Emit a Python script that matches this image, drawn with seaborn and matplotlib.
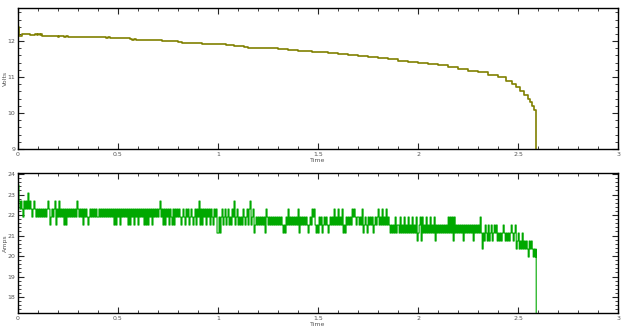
import numpy as np
import pandas as pd
import seaborn as sns
import matplotlib.pyplot as plt
from matplotlib.ticker import MultipleLocator

# battery voltage, step breakpoints (time, volts)
volt_t = [0.000, 0.004, 0.020, 0.060, 0.080, 0.085, 0.095, 0.100, 0.110, 0.115,
          0.120, 0.200, 0.205, 0.230, 0.240, 0.250, 0.320, 0.440, 0.450, 0.460,
          0.500, 0.560, 0.570, 0.580, 0.590, 0.620, 0.700, 0.720, 0.750, 0.800,
          0.820, 0.850, 0.920, 0.950, 1.040, 1.080, 1.100, 1.130, 1.150, 1.250,
          1.300, 1.350, 1.400, 1.470, 1.550, 1.600, 1.650, 1.700, 1.750, 1.800,
          1.850, 1.900, 1.950, 2.000, 2.050, 2.100, 2.150, 2.200, 2.250, 2.300,
          2.350, 2.400, 2.440, 2.470, 2.490, 2.510, 2.530, 2.550, 2.560, 2.570,
          2.580, 2.590, 2.5901]
volt_v = [12.38, 12.14, 12.19, 12.18, 12.16, 12.19, 12.16, 12.19, 12.16, 12.19,
          12.14, 12.12, 12.14, 12.12, 12.14, 12.12, 12.11, 12.09, 12.11, 12.08,
          12.08, 12.07, 12.04, 12.07, 12.04, 12.03, 12.02, 12.01, 11.99, 11.98,
          11.96, 11.94, 11.93, 11.91, 11.89, 11.87, 11.85, 11.84, 11.82, 11.80,
          11.78, 11.76, 11.73, 11.69, 11.66, 11.63, 11.61, 11.58, 11.55, 11.52,
          11.49, 11.46, 11.42, 11.40, 11.37, 11.33, 11.27, 11.23, 11.18, 11.13,
          11.07, 11.00, 10.90, 10.80, 10.72, 10.62, 10.50, 10.38, 10.30, 10.20,
          10.08, 10.00, 8.50]

# current samples every 0.005 s, coded as ADC levels (one char per sample)
amp_step = 0.005
amp_level_base = 19.95
amp_level_size = 0.39
amp_codes = [
    "97676576768676567656", "56565656567645656746", "57565646465656565657",
    "65656465654565656565", "56565656565656564646", "56465656564646564656",
    "46565646464656465656", "56756464656465464656", "56545654656456545646",
    "57464656465646546563", "35356456456454657456", "45454654564674563454",
    "54545453654545454545", "45454343546454545454", "63545454543454656434",
    "35453454543454546454", "64546343545454656545", "54546345435454534545",
    "64546454645434343534", "43534353435343534352", "34525343534353435243",
    "43434343435353525343", "43434243434343424343", "43531324324234234342",
    "32323432323234323412", "3121312121021210101",
]
amp_end_t = 2.5901
amp_end_v = 16.0

levels = [int(c) for c in "".join(amp_codes)]
amp_t = [i * amp_step for i in range(len(levels))] + [amp_end_t]
amp_v = [amp_level_base + k * amp_level_size for k in levels] + [amp_end_v]

volts = pd.DataFrame({"Time": volt_t, "Volts": volt_v})
amps = pd.DataFrame({"Time": amp_t, "Amps": amp_v})

sns.set_style("ticks")
plt.rcParams['font.family'] = ['DejaVu Sans']

fig = plt.figure(figsize=(6.4, 3.27), dpi=100)
ax1 = fig.add_axes([0.028, 0.5443, 0.938, 0.4312])
ax2 = fig.add_axes([0.028, 0.0428, 0.938, 0.4282])

sns.lineplot(data=volts, x="Time", y="Volts", ax=ax1, color="#808000",
             drawstyle="steps-post", estimator=None, sort=False, lw=1.2)
sns.lineplot(data=amps, x="Time", y="Amps", ax=ax2, color="#00a800",
             drawstyle="steps-post", estimator=None, sort=False, lw=0.8)

ax1.set_ylim(9, 12.92)
ax2.set_ylim(17.22, 24.05)
for ax in (ax1, ax2):
    ax.set_xlim(0, 3)
    ax.xaxis.set_major_locator(MultipleLocator(0.5))
    ax.xaxis.set_minor_locator(MultipleLocator(0.1))
    ax.yaxis.set_major_locator(MultipleLocator(1))
    ax.yaxis.set_minor_locator(MultipleLocator(0.2))
    ax.xaxis.set_major_formatter(plt.FuncFormatter(lambda v, p: f"{v:g}"))
    ax.tick_params(which="both", direction="in", top=True, right=True,
                   labelsize=4.5, labelcolor="#555555", pad=2)
    ax.tick_params(which="major", length=4, width=0.8)
    ax.tick_params(which="minor", length=2, width=0.6)
    for s in ax.spines.values():
        s.set_linewidth(1.0)
        s.set_color("black")
    ax.set_xlabel("Time", fontsize=4.5, color="#555555", labelpad=1)
    ax.yaxis.label.set_size(4.5)
    ax.yaxis.label.set_color("#555555")
    ax.yaxis.set_label_coords(-0.017, 0.5)

fig.savefig("out.png", dpi=100)
